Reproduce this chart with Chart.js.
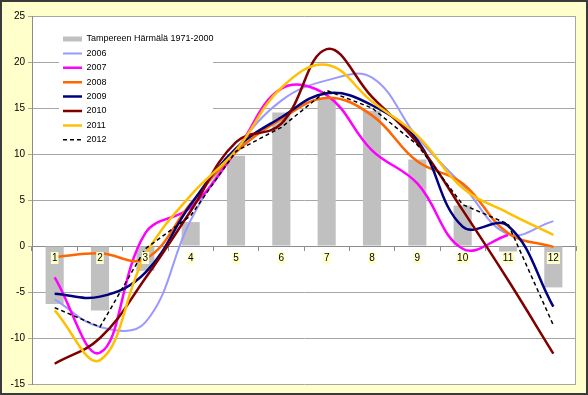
<!DOCTYPE html>
<html>
<head>
<meta charset="utf-8">
<script src="https://cdn.jsdelivr.net/npm/chart.js@4.4.1/dist/chart.umd.min.js"></script>
<style>
  html, body { margin: 0; padding: 0; background: #fff; }
  canvas { display: block; }
</style>
</head>
<body>
<canvas id="kuvaaja" width="588" height="395"></canvas>
<script>
// kuukaudet ja lämpötilat (°C)
const kuukaudet = ['1', '2', '3', '4', '5', '6', '7', '8', '9', '10', '11', '12'];
const normaali = [-6.3, -7.0, -2.7, 2.6, 9.8, 14.5, 16.0, 14.7, 9.4, 4.4, -0.6, -4.5];
const v2006 = [-5.8, -8.8, -8.3, 2.8, 10.5, 15.8, 18.0, 18.3, 11.8, 6.6, 1.3, 2.7];
const v2007 = [-3.4, -11.6, 1.4, 4.2, 10.3, 17.1, 16.4, 10.4, 6.8, -0.3, 1.2, null];
const v2008 = [-1.2, -0.8, -1.4, 4.6, 10.2, 13.8, 16.1, 14.2, 9.2, 6.8, 1.4, -0.1];
const v2009 = [-5.2, -5.5, -2.9, 4.5, 10.6, 14.0, 16.6, 15.3, 11.5, 2.1, 2.2, -6.6];
const v2010 = [-12.8, -10.0, -3.5, 3.8, 11.3, 13.3, 21.4, 16.2, 11.2, 3.9, -3.7, -11.7];
const v2011 = [-7.0, -12.4, -1.0, 5.5, 10.4, 17.2, 19.7, 15.7, 12.0, 6.3, 3.6, 1.2];
const v2012 = [-6.7, -8.8, -0.3, 3.3, 10.3, 12.9, 16.9, 15.0, 11.0, 4.5, 2.4, -8.6];
const yTicks = [-15, -10, -5, 0, 5, 10, 15, 20, 25];

Chart.defaults.font.family = "'Liberation Sans', Arial, sans-serif";

function viiva(label, data, color, width, order, extra) {
  return Object.assign({
    type: 'line',
    label: label,
    data: data,
    borderColor: color,
    backgroundColor: color,
    borderWidth: width,
    pointRadius: 0,
    tension: 0.4,
    fill: false,
    order: order
  }, extra || {});
}

// taustat ja kehykset
const tausta = {
  id: 'tausta',
  beforeDraw(chart) {
    const { ctx, chartArea: a, width, height } = chart;
    ctx.save();
    ctx.fillStyle = '#FFFFCC';
    ctx.fillRect(0, 0, width, height);
    ctx.fillStyle = '#ffffff';
    ctx.fillRect(a.left, a.top, a.right - a.left, a.bottom - a.top);
    ctx.strokeStyle = '#3a3a3a';
    ctx.lineWidth = 2;
    ctx.strokeRect(1, 1, width - 2, height - 2);
    ctx.restore();
  },
  beforeDatasetsDraw(chart) {
    const { ctx, chartArea: a } = chart;
    ctx.save();
    ctx.strokeStyle = '#a6a6a6';
    ctx.lineWidth = 1;
    ctx.beginPath();
    ctx.moveTo(Math.round(a.right) - 0.5, a.top);
    ctx.lineTo(Math.round(a.right) - 0.5, a.bottom);
    ctx.stroke();
    ctx.restore();
  }
};

// selite kuvaajan sisään, valkoinen pohja
const selite = {
  id: 'selite',
  afterLayout(chart) {
    const lg = chart.legend;
    lg.left = 57.6;
    lg.top = 29.1;
    lg.right = lg.left + lg.width;
    lg.bottom = lg.top + lg.height;
    if (!lg._pohja) {
      const piirra = lg.draw;
      lg.draw = function () {
        const c = chart.ctx;
        c.save();
        c.fillStyle = '#ffffff';
        c.fillRect(59, 30, 154, 118);
        c.restore();
        piirra.apply(this, arguments);
      };
      lg._pohja = true;
    }
  }
};

new Chart(document.getElementById('kuvaaja'), {
  type: 'bar',
  data: {
    labels: kuukaudet,
    datasets: [
      {
        type: 'bar',
        label: 'Tampereen Härmälä 1971-2000',
        data: normaali,
        backgroundColor: '#C0C0C0',
        borderWidth: 0,
        barPercentage: 0.4,
        categoryPercentage: 1.0,
        order: 20
      },
      viiva('2006', v2006, '#9999FF', 2, 7),
      viiva('2007', v2007, '#FF00FF', 2.5, 6),
      viiva('2008', v2008, '#FF6600', 2.5, 5),
      viiva('2009', v2009, '#000080', 2.5, 4),
      viiva('2010', v2010, '#800000', 2.5, 3),
      viiva('2011', v2011, '#FFC000', 2.5, 2),
      viiva('2012', v2012, '#000000', 1.5, 1, { tension: 0, borderDash: [4, 3] })
    ]
  },
  options: {
    responsive: false,
    animation: false,
    layout: { padding: { left: 0, top: 16, right: 12, bottom: 11 } },
    plugins: {
      tooltip: { enabled: false },
      legend: {
        position: 'chartArea',
        align: 'start',
        labels: {
          usePointStyle: true,
          pointStyle: 'line',
          pointStyleWidth: 19,
          padding: 5.4,
          color: '#000',
          font: { size: 9 },
          generateLabels(chart) {
            return chart.data.datasets.map((ds, i) => ({
              text: ds.label,
              fillStyle: 'transparent',
              strokeStyle: ds.type === 'bar' ? ds.backgroundColor : ds.borderColor,
              lineWidth: ds.type === 'bar' ? 5 : ds.borderWidth,
              lineDash: ds.borderDash || [],
              pointStyle: 'line',
              hidden: false,
              datasetIndex: i,
              fontColor: '#000'
            }));
          }
        }
      }
    },
    scales: {
      x: {
        type: 'category',
        position: { y: 0 },
        offset: true,
        grid: { offset: true, drawOnChartArea: false, tickLength: 4, color: '#8c8c8c' },
        border: { color: '#8c8c8c' },
        ticks: {
          z: 1,
          color: '#000',
          font: { size: 10 },
          padding: 2,
          maxRotation: 0,
          autoSkip: false,
          showLabelBackdrop: true,
          backdropColor: '#FFFFCC',
          backdropPadding: { left: 1, right: 1, top: 0, bottom: 0 }
        },
        afterFit(s) { s.height = 0; }
      },
      y: {
        min: yTicks[0],
        max: yTicks[yTicks.length - 1],
        afterBuildTicks(s) { s.ticks = yTicks.map(v => ({ value: v })); },
        grid: { color: '#a6a6a6', tickLength: 4 },
        border: { color: '#8c8c8c' },
        ticks: { color: '#000', font: { size: 10 }, padding: 3 },
        afterFit(s) { s.width = 32; }
      }
    }
  },
  plugins: [tausta, selite]
});
</script>
</body>
</html>
